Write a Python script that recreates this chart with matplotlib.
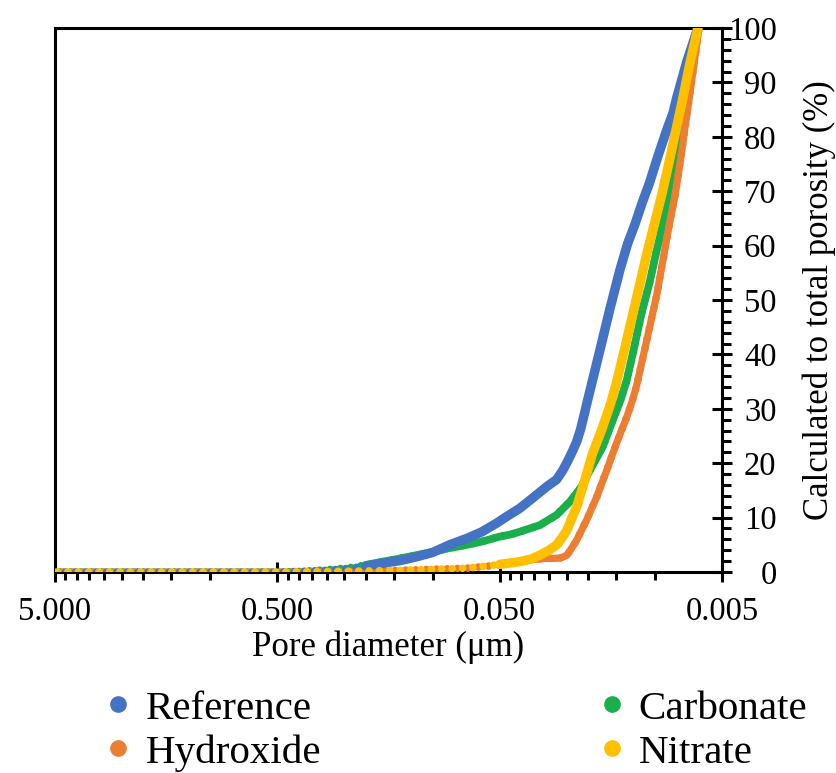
import matplotlib
matplotlib.use('Agg')
from matplotlib import pyplot as plt
from matplotlib.lines import Line2D
import numpy as np

plt.rcParams['font.family'] = ['Liberation Serif', 'DejaVu Serif']

# pore diameter (um) and cumulative porosity (%)
ref_d = [5.0, 2.0, 1.0, 0.5, 0.4, 0.3, 0.236, 0.2, 0.168, 0.14, 0.118, 0.1,
         0.084, 0.07, 0.06, 0.0515, 0.0465, 0.0406, 0.0355, 0.0307, 0.0277,
         0.026, 0.0247, 0.0234, 0.0225, 0.0216, 0.0207, 0.0201, 0.0191, 0.0177,
         0.016, 0.0144, 0.0133, 0.0123, 0.0114, 0.0106, 0.0097, 0.0088, 0.0083,
         0.0080, 0.0072, 0.00642]
ref_p = [0, 0, 0, 0, 0.1, 0.3, 0.7, 1.1, 1.6, 2.1, 2.8, 3.6,
         5.0, 6.2, 7.4, 9.0, 10.2, 11.7, 13.6, 15.7, 17.0,
         18.7, 20.4, 22.4, 24.0, 26.3, 29.4, 31.6, 35.3, 40.8,
         48.2, 55.5, 60.3, 64.0, 68.0, 71.5, 76.5, 81.6, 84.4,
         87.1, 93.8, 100]

hyd_d = [5.0, 1.0, 0.5, 0.3, 0.2, 0.141, 0.1, 0.0703, 0.05, 0.042, 0.0355,
         0.031, 0.028, 0.0265, 0.0249, 0.0237, 0.0225, 0.0203, 0.0183, 0.0165,
         0.0149, 0.0134, 0.0127, 0.0121, 0.0109, 0.0098, 0.0092, 0.0086, 0.00815,
         0.00773, 0.00734, 0.00697, 0.00662, 0.00635]
hyd_p = [0, 0, 0, 0.1, 0.2, 0.3, 0.5, 0.7, 1.3, 1.9, 2.3,
         2.5, 2.5, 2.6, 3.1, 4.4, 5.9, 9.6, 13.8, 18.7,
         23.7, 28.5, 31.3, 34.3, 42.6, 51.2, 57.5, 64.2, 69.0,
         75.0, 81.6, 88.0, 94.5, 100]

carb_d = [5.0, 1.0, 0.5, 0.4, 0.3, 0.236, 0.2, 0.168, 0.14, 0.118, 0.1, 0.084,
          0.07, 0.06, 0.05, 0.0446, 0.0406, 0.033, 0.0277, 0.0242, 0.0214, 0.0200,
          0.0172, 0.0157, 0.0143, 0.0134, 0.0124, 0.0115, 0.0106, 0.0099, 0.0092,
          0.0088, 0.0082, 0.0076, 0.0072, 0.0068, 0.00635]
carb_p = [0, 0, 0, 0.1, 0.4, 0.8, 1.3, 1.9, 2.5, 3.1, 3.7, 4.4,
          5.0, 5.6, 6.5, 6.9, 7.4, 8.6, 10.5, 12.9, 15.7, 18.1,
          23.0, 27.3, 31.6, 35.3, 41.4, 47.6, 53.1, 58.6, 64.1,
          67.8, 74.8, 81.6, 88.3, 94.4, 100]

nit_d = [5.0, 1.0, 0.5, 0.3, 0.2, 0.14, 0.1, 0.07, 0.05, 0.0406, 0.036, 0.033,
         0.030, 0.0277, 0.0262, 0.0249, 0.0237, 0.0225, 0.0207, 0.0191, 0.0174,
         0.016, 0.015, 0.0138, 0.0127, 0.0117, 0.0109, 0.0100, 0.0093, 0.0086,
         0.0080, 0.0075, 0.0070, 0.00642]
nit_p = [0, 0, 0, 0.1, 0.2, 0.3, 0.5, 0.7, 1.4, 1.9, 2.4, 3.1,
         4.0, 5.0, 6.3, 7.7, 9.9, 12.0, 16.9, 21.8, 26.1,
         30.4, 34.4, 40.5, 46.8, 53.0, 58.5, 64.5, 69.6, 75.8,
         81.8, 87.1, 93.2, 100]

names = ['Reference', 'Hydroxide', 'Carbonate', 'Nitrate']
colors = ['#4472C4', '#ED7D31', '#1AAF4B', '#FFC000']
series = [(ref_d, ref_p), (hyd_d, hyd_p), (carb_d, carb_p), (nit_d, nit_p)]
zorders = [4, 3, 2, 5]
solid_lw = [6.8, 5.2, 5.6, 6.8]

x_major = [5.0, 0.5, 0.05, 0.005]
x_labels = ['5.000', '0.500', '0.050', '0.005']
y_major = list(range(0, 101, 10))

fig = plt.figure(figsize=(8.36, 7.73), dpi=100)
ax = fig.add_axes([55 / 836, 1 - 572 / 773, 667 / 836, 544 / 773])

for i, (d, p) in enumerate(series):
    d = np.array(d)
    p = np.array(p)
    # dotted trace, mimics the densely packed markers
    ax.plot(d, p, color=colors[i], lw=5.5, linestyle=(i * 0.35, (0.01, 1.35)),
            dash_capstyle='round', zorder=zorders[i])
    rising = p >= 1.0
    ax.plot(d[rising], p[rising], color=colors[i], lw=solid_lw[i],
            solid_capstyle='round', solid_joinstyle='round', zorder=zorders[i])

ax.set_xscale('log')
ax.set_xlim(5.0, 0.005)
ax.set_ylim(0, 100)

minor = [m * 0.5 * 10.0 ** k for k in range(-2, 1) for m in range(2, 10)]
ax.set_xticks(x_major)
ax.set_xticklabels(x_labels)
ax.set_xticks(minor, minor=True)
ax.xaxis.set_minor_formatter(plt.NullFormatter())

ax.yaxis.tick_right()
ax.yaxis.set_label_position('right')
ax.set_yticks(y_major)
ax.set_yticklabels([str(v) for v in y_major], ha='right')
ax.set_yticks(range(0, 101, 2), minor=True)

ax.tick_params(axis='x', which='major', direction='inout', length=14, width=2.2,
               labelsize=23.5, pad=11)
ax.tick_params(axis='x', which='minor', direction='out', length=6, width=2.2)
ax.tick_params(axis='y', which='major', direction='inout', length=14.5, width=2.2,
               labelsize=23.5, pad=32)
ax.tick_params(axis='y', which='minor', direction='out', length=6.5, width=2.2)

for s in ax.spines.values():
    s.set_linewidth(2.2)

ax.set_xlabel('Pore diameter (μm)', fontsize=25)
ax.xaxis.set_label_coords(0.5, -0.107)
ax.xaxis.label.set_va('top')
ax.set_ylabel('Calculated to total porosity (%)', fontsize=25)
ax.yaxis.set_label_coords(1.121, 0.5)

handles = [Line2D([], [], color=c, marker='o', linestyle='none', markersize=11)
           for c in colors]
fig.legend(handles, names, ncol=2, loc='upper left', bbox_to_anchor=(102 / 836, 1 - 690 / 773),
           frameon=False, fontsize=29.5, handlelength=0.8, handletextpad=0.26,
           columnspacing=6.7, labelspacing=0.15, borderpad=0, borderaxespad=0)

fig.savefig('out.png', dpi=100)
